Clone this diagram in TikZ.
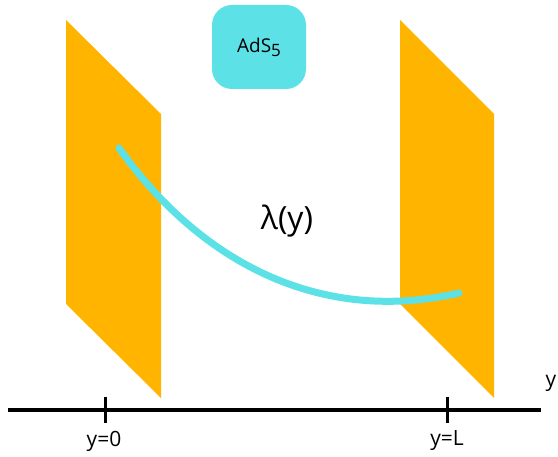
\documentclass[tikz,border=0pt]{standalone}
\usepackage{fontspec}
\setmainfont{Open Sans}
\definecolor{brane}{HTML}{FFB400}
\definecolor{bulk}{HTML}{5CE1E6}
\tikzset{
  branestyle/.style={fill=brane},
  tick/.style={line width=3pt},
  axislabel/.style={font=\fontsize{21}{24}\selectfont, inner sep=0pt}
}
\begin{document}
\begin{tikzpicture}[x=1pt, y=-1pt]
  \useasboundingbox (0,0) rectangle (558,457);
  % the two branes at y=0 and y=L
  \fill[branestyle] (66,20) -- (161,114) -- (161,398) -- (66,304) -- cycle;
  \fill[branestyle] (400,20) -- (494,114) -- (494,398) -- (400,304) -- cycle;
  \node[fill=bulk, rounded corners=20pt, minimum width=94pt, minimum height=84pt,
        inner sep=0pt, font=\fontsize{19}{22}\selectfont] (ads) at (259,47)
        {AdS\raisebox{-0.4ex}{\fontsize{17}{20}\selectfont 5}};
  % string profile between the branes
  \draw[bulk, line width=7pt, line cap=round]
    (119,148) .. controls (200,262) and (320,325) .. (459,293);
  \node[font=\fontsize{32}{36}\selectfont, inner sep=0pt] (lam) at (287,221) {λ(y)};
  % y axis
  \draw[line width=4pt] (8,410) -- (541,410);
  \draw[tick] (105,397) -- (105,423);
  \draw[tick] (447,397) -- (447,423);
  \node[axislabel] (y0) at (104,441) {y=0};
  \node[axislabel] (yL) at (447,441) {y=L};
  \node[axislabel] (yax) at (551,383) {y};
\end{tikzpicture}
\end{document}
